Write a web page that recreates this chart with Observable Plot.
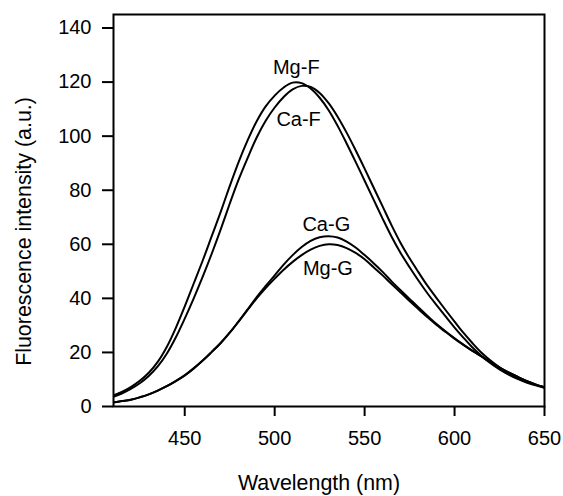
<!DOCTYPE html>
<html>
<head>
<meta charset="utf-8">
<script src="https://cdn.jsdelivr.net/npm/d3@7"></script>
<script src="https://cdn.jsdelivr.net/npm/@observablehq/plot@0.6"></script>
<style>
  html, body { margin: 0; padding: 0; background: #fff; }
  #chart svg { display: block; }
</style>
</head>
<body>
<div id="chart"></div>
<script>
const wavelength = [410,415,420,425,430,435,440,445,450,455,460,465,470,475,480,485,490,495,500,505,510,515,520,525,530,535,540,545,550,555,560,565,570,575,580,585,590,595,600,605,610,615,620,625,630,635,640,645,650];

const mgF = [4,5.4,7.2,9.5,12.5,16.5,22,29,37,45.5,54,63,72,81.5,90.5,98.5,105.5,111,115,118,119.8,119.6,117.6,114.2,109.6,103.8,97.3,90.5,83.5,76.5,69.5,62.8,56.8,51.5,46.5,41.8,37.5,33.3,29.2,25.4,21.8,18.7,16,13.7,11.8,10.2,8.9,7.8,6.9];
const caF = [3.5,4.8,6.5,8.6,11.3,14.8,19.5,25.5,32.5,40,48,56.5,65.5,75,84,92,99.5,105.7,110.6,114.5,117.3,118.6,118.2,116,112.2,107.2,101.3,94.8,88,81,74,67,60.5,54.8,49.6,44.6,40.1,35.7,31.4,27.2,23.4,19.9,17,14.5,12.4,10.6,9.1,8,7.1];
const caG = [1.5,2,2.5,3.4,4.5,5.9,7.5,9.4,11.5,14.1,17,20.2,23.5,27.3,31.5,35.9,40.5,44.6,48.5,52.5,56,59,61.3,62.6,63,62.5,61,58.8,56,53,49.8,46.3,43,39.8,36.6,33.5,30.5,27.8,25.2,22.8,20.6,18.5,16.4,14.4,12.6,11,9.5,8.2,7.1];
const mgG = [1.5,2,2.5,3.4,4.5,5.9,7.5,9.4,11.5,14.1,17,20.2,23.5,27.3,31.5,35.8,40,43.8,47.3,50.6,53.5,56,58,59.4,60,59.7,58.6,56.8,54.5,51.5,48.5,45.3,42.2,39,36,33,30.2,27.6,25.1,22.8,20.6,18.5,16.4,14.4,12.6,11,9.5,8.2,7.1];

const seriesNames = ["Mg-F", "Ca-F", "Ca-G", "Mg-G"];
const seriesValues = [mgF, caF, caG, mgG];

const labelNames = ["Mg-F", "Ca-F", "Ca-G", "Mg-G"];
const labelX = [512, 513.3, 528.7, 529.6];
const labelY = [125.3, 106, 67.2, 51.1];

const xTicks = [450, 500, 550, 600, 650];
const yTicks = [0, 20, 40, 60, 80, 100, 120, 140];

const rows = [];
seriesNames.forEach((name, i) => {
  wavelength.forEach((w, j) => rows.push({series: name, wavelength: w, value: seriesValues[i][j]}));
});
const labels = labelNames.map((t, i) => ({text: t, x: labelX[i], y: labelY[i]}));

const font = "Liberation Sans, Arial, Helvetica, sans-serif";

const chart = Plot.plot({
  width: 563,
  height: 496,
  marginLeft: 113,
  marginRight: 19,
  marginTop: 14,
  marginBottom: 90,
  style: {fontFamily: font, fontSize: "20px", color: "black", background: "white"},
  x: {domain: [410.4, 650]},
  y: {domain: [0, 145]},
  marks: [
    Plot.frame({stroke: "black", strokeWidth: 2}),
    Plot.axisX({ticks: xTicks, tickSize: 10, tickPadding: 14, label: null, strokeWidth: 2, fontSize: 20}),
    Plot.axisY({ticks: yTicks, tickSize: 11, tickPadding: 11, label: null, strokeWidth: 2, fontSize: 20}),
    Plot.line(rows, {x: "wavelength", y: "value", z: "series", stroke: "black", strokeWidth: 2, curve: "catmull-rom", clip: true}),
    Plot.text(labels, {x: "x", y: "y", text: "text", fill: "black", fontSize: 20}),
    Plot.text(["Wavelength (nm)"], {frameAnchor: "bottom", text: d => d, dy: 77, dx: -10, lineAnchor: "middle", textAnchor: "middle", fontSize: 21.4, fill: "black"}),
    Plot.text(["Fluorescence intensity (a.u.)"], {frameAnchor: "left", text: d => d, rotate: -90, dx: -89, dy: 21, textAnchor: "middle", lineAnchor: "middle", fontSize: 21.4, fill: "black"})
  ]
});
document.getElementById("chart").appendChild(chart);
</script>
</body>
</html>
